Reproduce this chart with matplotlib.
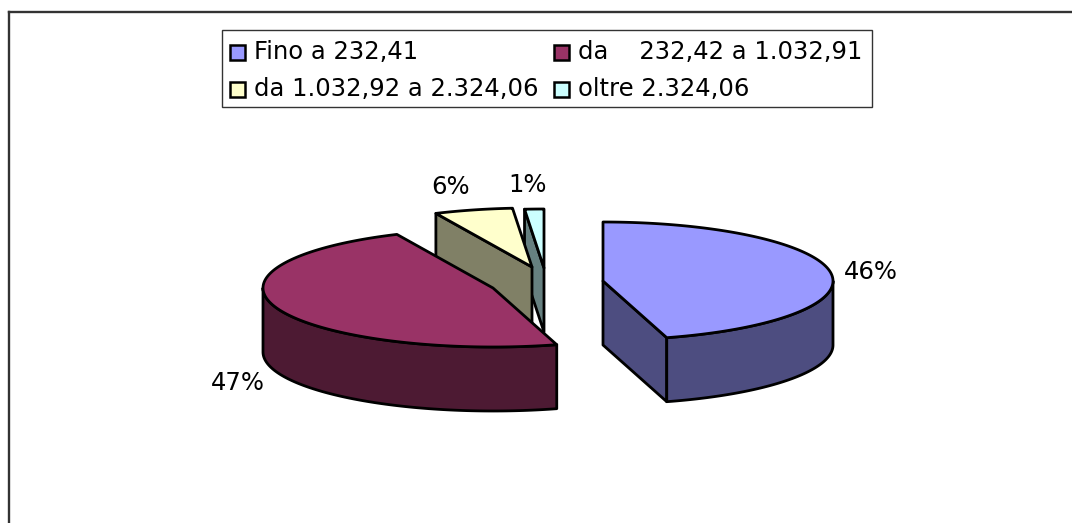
import numpy as np
import matplotlib
matplotlib.use("Agg")
import matplotlib.pyplot as plt
from matplotlib.patches import Polygon, Rectangle

categories = ["Fino a 232,41", "da    232,42 a 1.032,91", "da 1.032,92 a 2.324,06", "oltre 2.324,06"]
values = [46, 47, 6, 1]
top_colors = ["#9999FF", "#993366", "#FFFFCC", "#CCFFFF"]
side_colors = ["#4D4D80", "#4D1A33", "#808066", "#668080"]
apexes = [(603, 281), (493, 288), (532, 267), (544, 268)]
label_xy = [(871, 272), (238, 383), (451, 187), (528, 185)]

RX, RY, DEPTH = 230, 59, 64
W, H = 1072, 523
plt.rcParams['font.family'] = ['DejaVu Sans']
fig = plt.figure(figsize=(W / 100, H / 100), dpi=100, facecolor="white")
ax = fig.add_axes([0, 0, 1, 1])
ax.set_xlim(0, W)
ax.set_ylim(H, 0)
ax.axis("off")

LW = 2.0
ax.plot([9, 9], [H + 5, 12], color="#333333", lw=1.7, zorder=0, solid_capstyle="projecting")
ax.plot([9, W + 5], [12, 12], color="#333333", lw=1.7, zorder=0, solid_capstyle="projecting")

fr = np.cumsum([0] + values) / sum(values) * 360.0

# slight distortion of the pie's apparent angles by the 3-D view
def view(deg):
    return np.radians(np.interp(deg, [0, 90, 165, 180, 270, 335, 356, 360],
                                [0, 90, 163.3, 178.5, 270, 335.5, 354.6, 360]))

def pt(a, deg):
    t = view(deg)
    return np.column_stack([a[0] + RX * np.sin(t), a[1] - RY * np.cos(t)])

def poly(pts, fc, z):
    ax.add_patch(Polygon(pts, closed=True, fc=fc, ec="black", lw=LW, joinstyle="round", zorder=z))

down = np.array([0, DEPTH])
# back-to-front: cyan, yellow, blue, red
draw_order = [3, 2, 0, 1]
visible_face = {0: 1, 2: 0, 3: 0}   # which radial edge shows its wall
for k, i in enumerate(draw_order):
    z = (k + 1) * 10
    a = np.array(apexes[i], float)
    r = pt(a, np.linspace(fr[i], fr[i + 1], 160))
    if i in visible_face:
        e = r[0] if visible_face[i] == 0 else r[-1]
        poly([a, e, e + down, a + down], side_colors[i], z)
    lo, hi = max(fr[i], 90), min(fr[i + 1], 270)
    if hi > lo:
        e = pt(a, np.linspace(lo, hi, 100))
        poly(np.vstack([e, (e + down)[::-1]]), side_colors[i], z + 2)
    poly(np.vstack([a, r]), top_colors[i], z + 3)

for v, (x, y) in zip(values, label_xy):
    ax.text(x, y, f"{v}%", ha="center", va="center", fontsize=17.5, color="black", zorder=60)

# legend
ax.add_patch(Rectangle((222, 29.5), 650, 77.5, fc="white", ec="#333333", lw=1.0, zorder=70))
leg_xy = [(230, 52), (554, 52), (230, 89), (554, 89)]
for (x, y), c, lab in zip(leg_xy, top_colors, categories):
    ax.add_patch(Rectangle((x, y - 7), 15, 15, fc=c, ec="black", lw=1.8, zorder=71))
    ax.text(x + 24, y, lab, ha="left", va="center", fontsize=17.5, color="black", zorder=72)

fig.savefig("out.png", dpi=100)
